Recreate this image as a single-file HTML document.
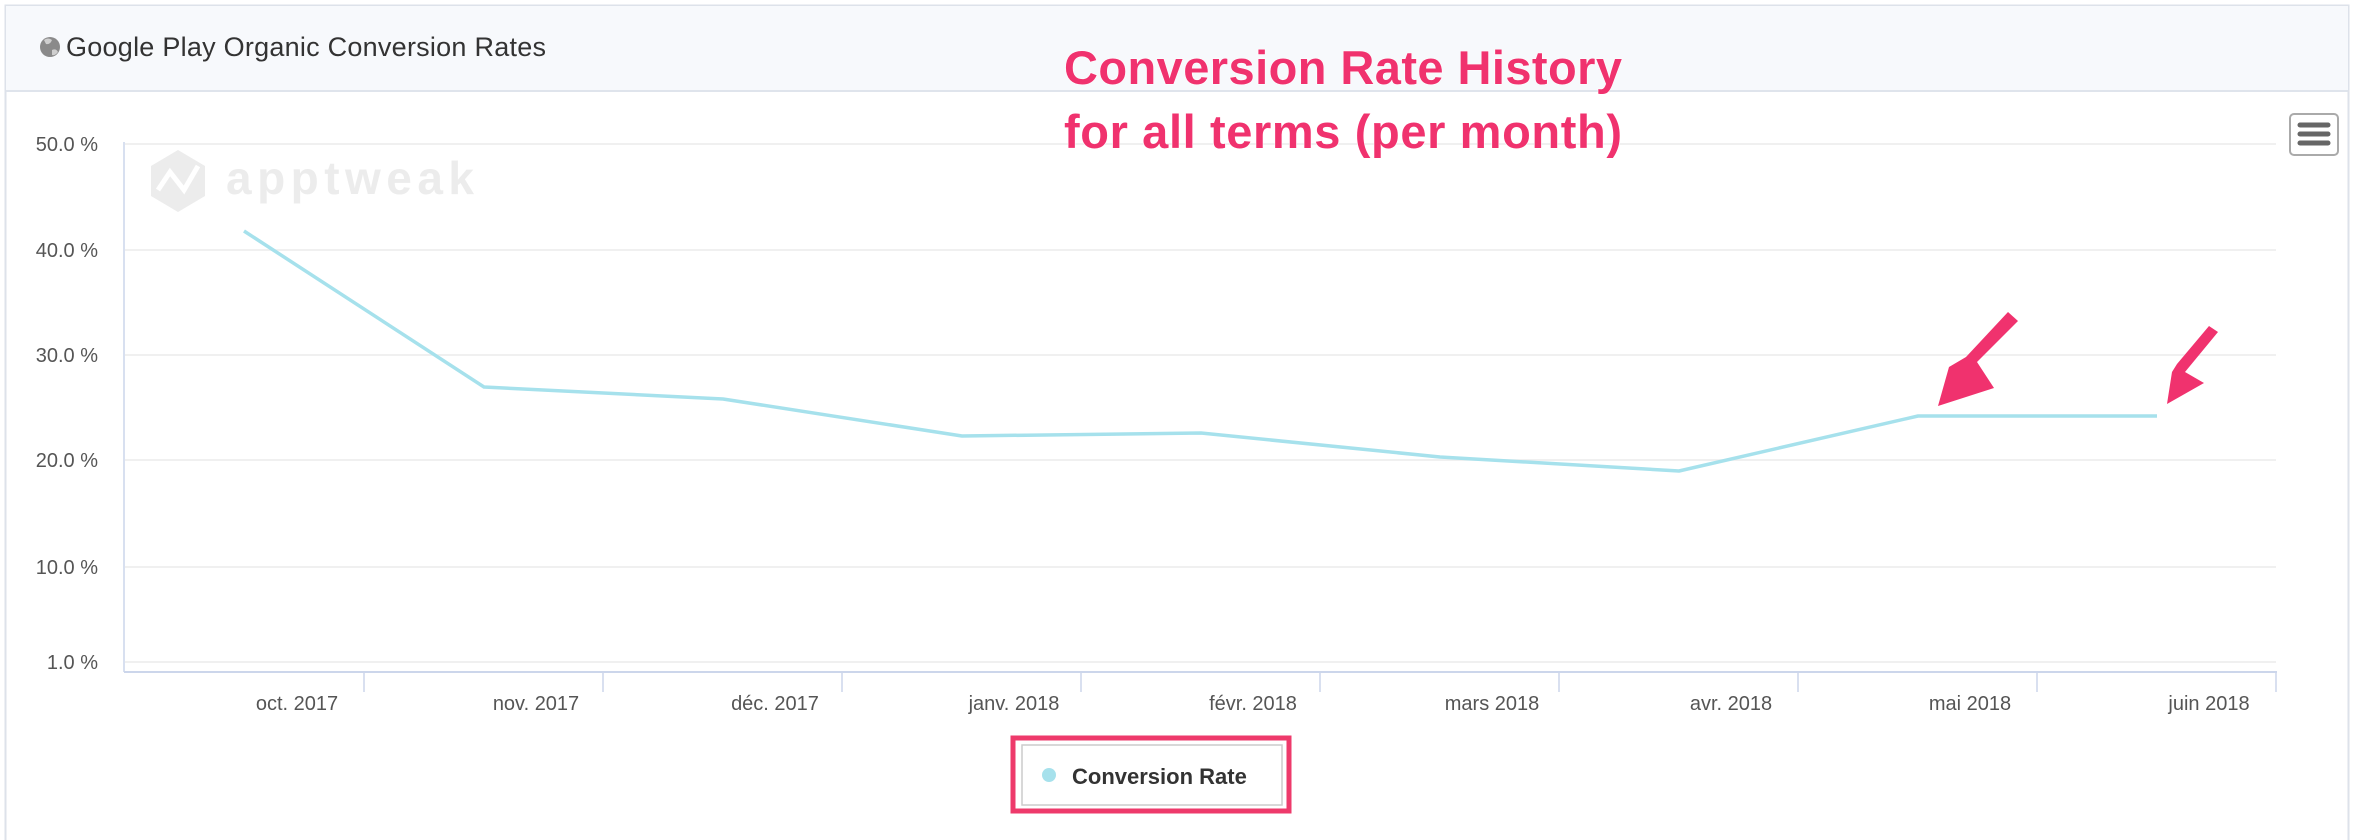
<!DOCTYPE html>
<html><head><meta charset="utf-8"><style>
html,body{margin:0;padding:0;background:#fff;}
body{width:2360px;height:840px;position:relative;overflow:hidden;font-family:"Liberation Sans",sans-serif;}
</style></head><body>
<svg width="2360" height="840" viewBox="0 0 2360 840" xmlns="http://www.w3.org/2000/svg" style="position:absolute;left:0;top:0">
<rect x="5.5" y="5.5" width="2343" height="840" fill="#fff" stroke="#dde2ea" stroke-width="2"/>
<rect x="6" y="6" width="2342" height="85" fill="#f7f9fc"/>
<line x1="6" y1="91" x2="2348" y2="91" stroke="#dfe4ec" stroke-width="2"/>
<circle cx="50" cy="47" r="10" fill="#8a8a8a"/>
<path d="M44 40 q4 -3 8 0 q-2 5 -6 4 z M52 50 q4 -2 6 2 q-3 4 -6 3z" fill="#cfcfcf"/>
<text x="66" y="56" font-size="27" fill="#333" textLength="480">Google Play Organic Conversion Rates</text>
<!-- watermark -->
<polygon points="178,150 205,166 205,196 178,212 151,196 151,166" fill="#ececec"/>
<polyline points="158,190 170,172 184,190 198,166" fill="none" stroke="#fff" stroke-width="5"/>
<text x="226" y="194" font-size="46" font-weight="bold" fill="#ececec" textLength="248">apptweak</text>
<!-- grid -->
<g stroke="#ececec" stroke-width="1.5">
<line x1="125" y1="144" x2="2276" y2="144"/>
<line x1="125" y1="250" x2="2276" y2="250"/>
<line x1="125" y1="355" x2="2276" y2="355"/>
<line x1="125" y1="460" x2="2276" y2="460"/>
<line x1="125" y1="567" x2="2276" y2="567"/>
<line x1="125" y1="662" x2="2276" y2="662"/>
</g>
<line x1="124" y1="142" x2="124" y2="672" stroke="#ccd6eb" stroke-width="1.5"/>
<line x1="124" y1="672" x2="2277" y2="672" stroke="#ccd6eb" stroke-width="2"/>
<g stroke="#ccd6eb" stroke-width="1.5">
<line x1="364" y1="672" x2="364" y2="692"/><line x1="603" y1="672" x2="603" y2="692"/>
<line x1="842" y1="672" x2="842" y2="692"/><line x1="1081" y1="672" x2="1081" y2="692"/>
<line x1="1320" y1="672" x2="1320" y2="692"/><line x1="1559" y1="672" x2="1559" y2="692"/>
<line x1="1798" y1="672" x2="1798" y2="692"/><line x1="2037" y1="672" x2="2037" y2="692"/>
<line x1="2276" y1="672" x2="2276" y2="692"/>
</g>
<g font-size="20" fill="#555" text-anchor="end">
<text x="98" y="151">50.0 %</text><text x="98" y="257">40.0 %</text>
<text x="98" y="362">30.0 %</text><text x="98" y="467">20.0 %</text>
<text x="98" y="574">10.0 %</text><text x="98" y="669">1.0 %</text>
</g>
<g font-size="20" fill="#555" text-anchor="middle">
<text x="297" y="710">oct. 2017</text><text x="536" y="710">nov. 2017</text>
<text x="775" y="710">déc. 2017</text><text x="1014" y="710">janv. 2018</text>
<text x="1253" y="710">févr. 2018</text><text x="1492" y="710">mars 2018</text>
<text x="1731" y="710">avr. 2018</text><text x="1970" y="710">mai 2018</text>
<text x="2209" y="710">juin 2018</text>
</g>
<polyline fill="none" stroke="#a6e1ec" stroke-width="3.5" stroke-linejoin="round" points="244,231 484,387 723,399 962,436 1201,433 1440,457 1679,471 1918,416 2157,416"/>
<!-- menu -->
<rect x="2290" y="114" width="48" height="41" rx="4" fill="#fff" stroke="#aaa" stroke-width="2"/>
<g stroke="#666" stroke-width="5" stroke-linecap="round"><line x1="2300" y1="125" x2="2328" y2="125"/><line x1="2300" y1="134" x2="2328" y2="134"/><line x1="2300" y1="143" x2="2328" y2="143"/></g>
<!-- annotation -->
<g font-size="47" font-weight="bold" fill="#f0326e" stroke="#fff" stroke-width="1" paint-order="stroke">
<text x="1064" y="84" textLength="558">Conversion Rate History</text>
<text x="1064" y="148" textLength="558">for all terms (per month)</text>
</g>
<polygon points="2008,312 2018,321 1977,362 1994,388 1938,406 1949,367 1966,357" fill="#f0326e"/>
<polygon points="2209,326 2218,332 2185,372 2204,383 2167,404 2172,372 2177,364" fill="#f0326e"/>
<!-- legend -->
<rect x="1013" y="738" width="276" height="73" fill="none" stroke="#ee3a6b" stroke-width="5"/>
<rect x="1022" y="745" width="260" height="60" fill="#fff" stroke="#ccc" stroke-width="1.5"/>
<circle cx="1049" cy="775" r="7" fill="#a6e1ec"/>
<text x="1072" y="784" font-size="22" font-weight="bold" fill="#333">Conversion Rate</text>
</svg>
</body></html>
